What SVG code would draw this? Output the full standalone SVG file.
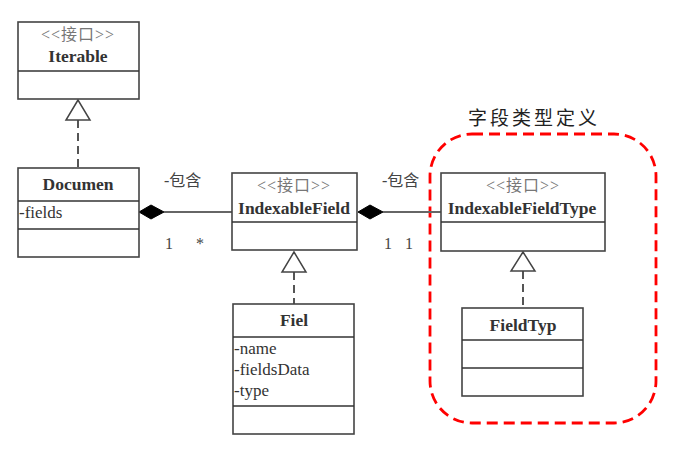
<svg xmlns="http://www.w3.org/2000/svg" width="688" height="452" viewBox="0 0 688 452">
<style>
.box{fill:#fff;stroke:#444;stroke-width:1.6}
.div{stroke:#333;stroke-width:1.5}
.st{font-family:"Liberation Serif","Noto Sans CJK SC",serif;font-size:16px;letter-spacing:1px;fill:#777;text-anchor:middle}
.nm{font-family:"Liberation Serif",serif;font-size:17.5px;font-weight:bold;fill:#333;text-anchor:middle}
.at{font-family:"Liberation Serif",serif;font-size:17px;fill:#333}
.lb{font-family:"Liberation Serif","Noto Sans CJK SC",serif;font-size:16px;fill:#444}
.ln{stroke:#666;stroke-width:2;fill:none}
.dash{stroke:#555;stroke-width:2;stroke-dasharray:8 5;fill:none}
.tri{fill:#fff;stroke:#444;stroke-width:1.5}
.dia{fill:#000;stroke:#000;stroke-width:1}
</style>
<g id="group-fieldtype">
<rect x="430" y="134" width="226" height="289" rx="42" ry="42" fill="none" stroke="#f00" stroke-width="2.8" stroke-dasharray="11 6"/>
<text x="534" y="125" text-anchor="middle" font-family="Noto Sans CJK SC,sans-serif" font-size="19" letter-spacing="3" fill="#222">字段类型定义</text>
</g>
<g id="connectors">
<path class="dash" d="M78 120 V168"/>
<polygon class="tri" points="78,100 66,120 90,120"/>
<path class="ln" d="M164 212 H233"/>
<polygon class="dia" points="139,212 151,205 164,212 151,219"/>
<path class="ln" d="M383 212 H441"/>
<polygon class="dia" points="358,212 370,205 383,212 370,219"/>
<path class="dash" d="M294 272 V304"/>
<polygon class="tri" points="294,252 282,272 306,272"/>
<path class="dash" d="M523 271 V308"/>
<polygon class="tri" points="523,252 511,271 535,271"/>
<text class="lb" x="164" y="186">-包含</text>
<text class="lb" x="165" y="249">1</text>
<text class="lb" x="196" y="249">*</text>
<text class="lb" x="384" y="249">1</text>
<text class="lb" x="405" y="249">1</text>
<text class="lb" x="382" y="186">-包含</text>
</g>
<g id="Iterable">
<rect class="box" x="18" y="22" width="121" height="77"/>
<line class="div" x1="18" y1="71" x2="139" y2="71"/>
<text class="st" x="78" y="40">&lt;&lt;接口&gt;&gt;</text>
<text class="nm" x="78" y="62">Iterable</text>
</g>
<g id="Documen">
<rect class="box" x="18" y="168" width="121" height="89"/>
<line class="div" x1="18" y1="201" x2="139" y2="201"/>
<line class="div" x1="18" y1="229" x2="139" y2="229"/>
<text class="nm" x="78" y="190">Documen</text>
<text class="at" x="19" y="218">-fields</text>
</g>
<g id="IndexableField">
<rect class="box" x="232" y="173" width="125" height="77"/>
<line class="div" x1="232" y1="222" x2="357" y2="222"/>
<text class="st" x="294" y="191">&lt;&lt;接口&gt;&gt;</text>
<text class="nm" x="294" y="214">IndexableField</text>
</g>
<g id="IndexableFieldType">
<rect class="box" x="441" y="173" width="164" height="78"/>
<line class="div" x1="441" y1="222" x2="605" y2="222"/>
<text class="st" x="523" y="191">&lt;&lt;接口&gt;&gt;</text>
<text class="nm" x="522" y="214">IndexableFieldType</text>
</g>
<g id="Fiel">
<rect class="box" x="233" y="304" width="121" height="130"/>
<line class="div" x1="233" y1="337" x2="354" y2="337"/>
<line class="div" x1="233" y1="406" x2="354" y2="406"/>
<text class="nm" x="294" y="326">Fiel</text>
<text class="at" x="234" y="354">-name</text>
<text class="at" x="234" y="375">-fieldsData</text>
<text class="at" x="234" y="396">-type</text>
</g>
<g id="FieldTyp">
<rect class="box" x="462" y="308" width="121" height="88"/>
<line class="div" x1="462" y1="340" x2="583" y2="340"/>
<line class="div" x1="462" y1="368" x2="583" y2="368"/>
<text class="nm" x="523" y="331">FieldTyp</text>
</g>
</svg>
